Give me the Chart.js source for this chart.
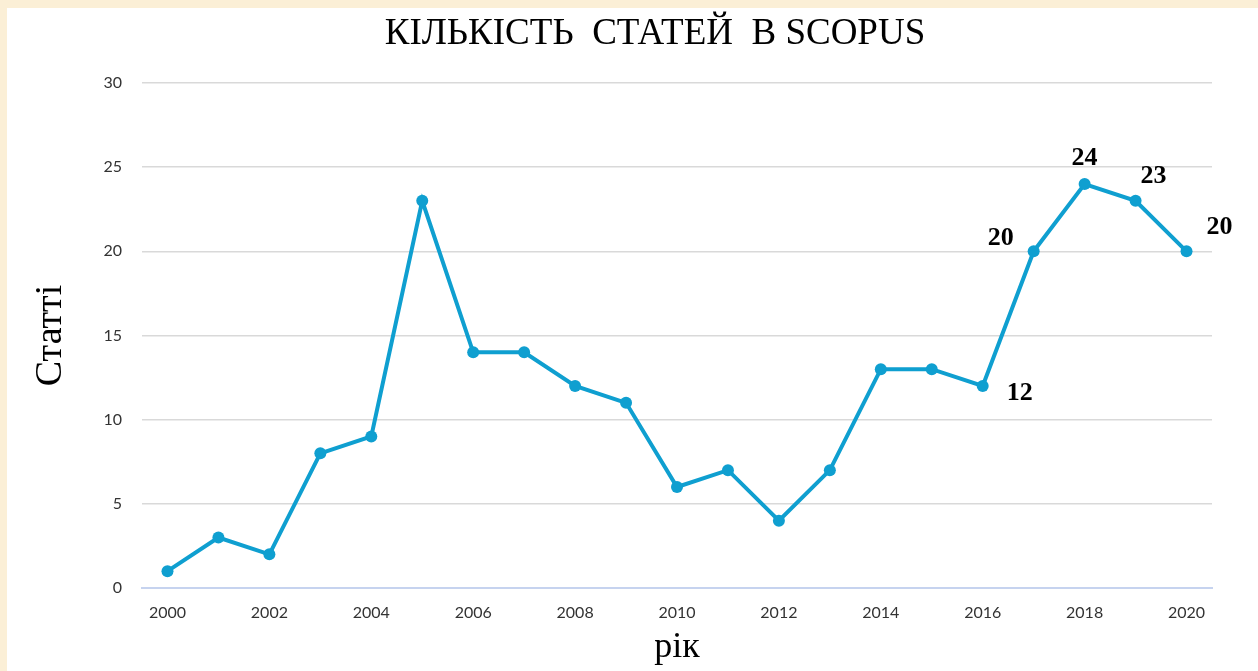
<!DOCTYPE html>
<html>
<head>
<meta charset="utf-8">
<script src="https://cdn.jsdelivr.net/npm/chart.js@4/dist/chart.umd.min.js"></script>
<style>
  html, body { margin: 0; padding: 0; }
  body { width: 1258px; height: 671px; background: #fbefd6; position: relative; overflow: hidden; }
  #panel { position: absolute; left: 7px; top: 8px; right: 0; bottom: 0; background: #ffffff; }
  #wrap { position: absolute; left: 0; top: 0; width: 1258px; height: 671px; }
</style>
</head>
<body>
<div id="panel"></div>
<div id="wrap"><canvas id="c" width="1258" height="671"></canvas></div>
<script>
const years = ['2000','2001','2002','2003','2004','2005','2006','2007','2008','2009','2010','2011','2012','2013','2014','2015','2016','2017','2018','2019','2020'];
const articles = [1, 3, 2, 8, 9, 23, 14, 14, 12, 11, 6, 7, 4, 7, 13, 13, 12, 20, 24, 23, 20];
const labelledYears = ['2016', '2017', '2018', '2019', '2020'];
const yTicks = [0, 5, 10, 15, 20, 25, 30];
const chartTitle = 'КІЛЬКІСТЬ  СТАТЕЙ  В SCOPUS';
const yTitle = 'Статті';
const xTitle = 'рік';

// label placement (style, not data)
const labelOffsets = {
  '2016': [37, 7],
  '2017': [-33, -13],
  '2018': [0, -26],
  '2019': [18, -25],
  '2020': [33, -24]
};

const lineColor = '#0f9fd0';

const textPlugin = {
  id: 'texts',
  afterDraw(chart) {
    const ctx = chart.ctx;
    const xs = chart.scales.x, ys = chart.scales.y;
    ctx.save();
    ctx.fillStyle = '#000';
    ctx.font = '37px "Liberation Serif", "Times New Roman", serif';
    ctx.textAlign = 'center';
    ctx.textBaseline = 'middle';
    ctx.fillText(chartTitle, 655, 34);
    ctx.font = 'bold 26px "Liberation Serif", "Times New Roman", serif';
    labelledYears.forEach(y => {
      const i = years.indexOf(y);
      const px = xs.getPixelForValue(i);
      const py = ys.getPixelForValue(articles[i]);
      const off = labelOffsets[y];
      ctx.fillText(String(articles[i]), px + off[0], py + off[1]);
    });
    ctx.restore();
  }
};

new Chart(document.getElementById('c'), {
  type: 'line',
  data: {
    labels: years,
    datasets: [{
      data: articles,
      borderColor: lineColor,
      backgroundColor: lineColor,
      borderWidth: 4,
      pointRadius: 6,
      pointBackgroundColor: lineColor,
      pointBorderWidth: 0,
      tension: 0
    }]
  },
  options: {
    responsive: false,
    animation: false,
    layout: { padding: { left: 0, top: 83, right: 46, bottom: 0 } },
    plugins: { legend: { display: false }, tooltip: { enabled: false }, title: { display: false } },
    scales: {
      x: {
        type: 'category',
        offset: true,
        grid: { display: false, drawTicks: false },
        border: { display: true, color: '#c6d3ef', width: 2 },
        ticks: {
          autoSkip: false,
          maxRotation: 0,
          padding: 15,
          color: '#333333',
          font: { family: 'Lato, "Open Sans", sans-serif', size: 16 },
          callback: function(v, i) { return i % 2 === 0 ? years[i] : ''; }
        },
        title: {
          display: true,
          text: xTitle,
          color: '#000',
          font: { family: '"Liberation Serif", "Times New Roman", serif', size: 36 },
          padling: 0,
          padding: { top: 0, bottom: 2 }
        },
        afterFit(s) { s.height = 83; }
      },
      y: {
        min: 0,
        max: 30,
        afterBuildTicks(s) { s.ticks = yTicks.map(v => ({ value: v })); },
        grid: { color: '#d9d9d9', lineWidth: 1.5, drawTicks: false },
        border: { display: false },
        ticks: {
          padding: 20,
          color: '#333333',
          font: { family: 'Lato, "Open Sans", sans-serif', size: 16 }
        },
        title: {
          display: true,
          text: yTitle,
          color: '#000',
          font: { family: '"Liberation Serif", "Times New Roman", serif', size: 38 },
          padding: { top: 28, bottom: 0 }
        },
        afterFit(s) { s.width = 142; }
      }
    }
  },
  plugins: [textPlugin]
});
</script>
</body>
</html>
